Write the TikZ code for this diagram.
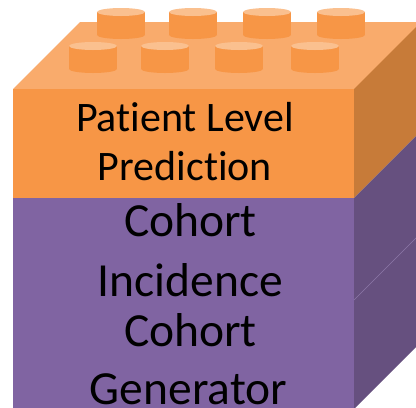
\documentclass[tikz,border=0pt]{standalone}
\usepackage{fontspec}
\setmainfont[Ligatures={NoCommon}]{Carlito}
\definecolor{frontor}{HTML}{F79646}
\definecolor{topor}{HTML}{F9AB6C}
\definecolor{studtopc}{HTML}{FAC08F}
\definecolor{sideor}{HTML}{C77B39}
\definecolor{frontpu}{HTML}{8064A2}
\definecolor{sidepu}{HTML}{66507F}
\definecolor{seampu}{HTML}{8C78A8}
\tikzset{
  orangetxt/.style={anchor=base, inner sep=0pt, font=\fontsize{42bp}{50bp}\selectfont},
  purpletxt/.style={anchor=base, inner sep=0pt, font=\fontsize{47.5bp}{57bp}\selectfont},
  stud/.pic={
    \fill[frontor] (-24,0) rectangle (24,23);
    \fill[frontor] (0,23) ellipse [x radius=24bp, y radius=4bp];
    \fill[studtopc] (0,0) ellipse [x radius=24bp, y radius=4bp];
  }
}
\begin{document}
\begin{tikzpicture}[x=1bp,y=-1bp]
\useasboundingbox (0,0) rectangle (416,408);
\clip (0,0) rectangle (416,408);
% top face
\fill[topor] (13,89) -- (80,22) -- (425,22) -- (358,89) -- cycle;
% back row studs
\foreach \cx in {121,193,267,341} { \pic at (\cx,12) {stud}; }
% front row studs
\foreach \cx in {93,165,239,315} { \pic at (\cx,46) {stud}; }
% orange front and side
\fill[frontor] (13,89) rectangle (354,198);
\fill[sideor] (354,89) -- (421,22) -- (421,131) -- (354,198) -- cycle;
% purple front and side
\fill[frontpu] (13,198) rectangle (354,412);
\fill[sidepu] (354,198) -- (421,131) -- (421,342) -- (354,409) -- cycle;
\draw[seampu, line width=0.5bp] (354,300) -- (421,233);
% texts
\node[orangetxt] (pl1) at (185,131.5) {Patient Level};
\node[orangetxt] (pl2) at (185,180.5) {Prediction};
\node[purpletxt] (ci1) at (190.5,236.7) {Cohort};
\node[purpletxt] (ci2) at (190.5,296) {Incidence};
\node[purpletxt] (cg1) at (190.5,346.7) {Cohort};
\node[purpletxt] (cg2) at (188.5,404) {Generator};
\end{tikzpicture}
\end{document}
